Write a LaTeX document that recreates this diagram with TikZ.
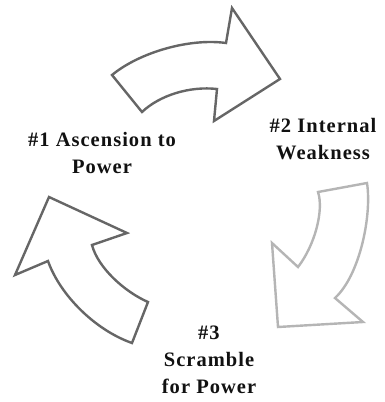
\documentclass[tikz,border=0pt]{standalone}
\usepackage{fontspec}
\newfontfamily\stagefont{Liberation Serif}[LetterSpace=5]
\definecolor{arrowgray}{HTML}{666666}
\definecolor{arrowlight}{HTML}{B5B5B5}
\definecolor{textgray}{HTML}{111111}

\begin{document}
\begin{tikzpicture}[x=1pt,y=-1pt,
    bentarrow/.style={line width=2.4pt, line join=miter, fill=white},
    stagetext/.style={font=\stagefont\bfseries\fontsize{20.5}{27}\selectfont,
      align=center, text=textgray, inner sep=0pt}]
  \useasboundingbox (0,0) rectangle (384,402);

  % Define the three bent arrows
  \def\arrowTop{(112,75) -- (142,112) .. controls (160,95) and (190,86) .. (217,89)
    -- (214,121) -- (280,79) -- (232,8) -- (226,43)
    .. controls (190,38) and (140,52) .. cycle}
  \def\arrowRight{(318,192) -- (367,183) .. controls (372,215) and (360,275) .. (335,298)
    -- (363,322) -- (278,327) -- (272,243) -- (298,267)
    .. controls (315,245) and (324,210) .. cycle}
  \def\arrowLeft{(148,302) -- (132,343) .. controls (95,330) and (60,295) .. (48,261)
    -- (15,275) -- (49,197) -- (127,233) -- (92,245)
    .. controls (98,268) and (125,292) .. cycle}

  % Draw the arrows
  \draw[bentarrow, draw=arrowgray] \arrowTop;
  \draw[bentarrow, draw=arrowlight] \arrowRight;
  \draw[bentarrow, draw=arrowgray] \arrowLeft;

  % Stage labels
  \node[stagetext] (ascension) at (102,153) {\#1 Ascension to\\Power};
  \node[stagetext] (weakness) at (323,139) {\#2 Internal\\Weakness};
  \node[stagetext] (scramble) at (209,360) {\#3\\Scramble\\for Power};
\end{tikzpicture}
\end{document}
